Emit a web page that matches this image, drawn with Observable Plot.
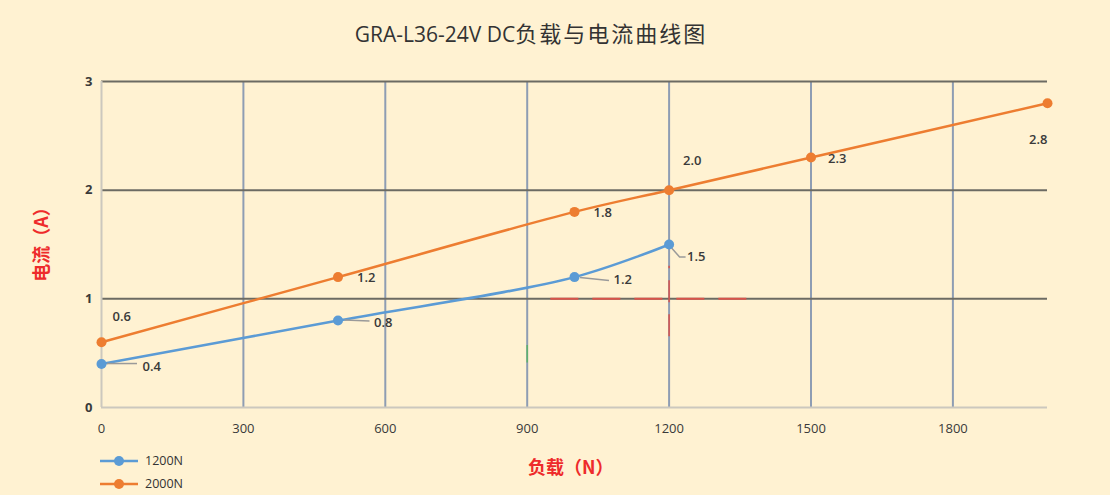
<!DOCTYPE html>
<html><head><meta charset="utf-8">
<script src="https://cdn.jsdelivr.net/npm/d3@7"></script>
<script src="https://cdn.jsdelivr.net/npm/@observablehq/plot@0.6"></script>
<style>
html,body{margin:0;padding:0;background:#FFF2D2;}
#wrap{position:relative;width:1110px;height:495px;background:#FFF2D2;overflow:hidden;
  font-family:"Open Sans","Noto Sans","Noto Sans CJK SC",sans-serif;}
#wrap svg{position:absolute;left:0;top:0;}
#title{position:absolute;left:0;top:16px;width:1062px;text-align:center;color:#333;white-space:nowrap;}
#title .lat{font-family:"Open Sans",sans-serif;font-size:21px;}
#title .cjk{font-family:"Noto Sans CJK SC",sans-serif;font-size:22px;letter-spacing:2px;}
.axt{position:absolute;color:#EE2B2B;font-family:"Noto Sans CJK SC",sans-serif;font-size:18px;font-weight:700;white-space:nowrap;}
#xt{left:528px;top:453px;}
#yt{left:40px;top:240px;transform:translate(-50%,-50%) rotate(-90deg);}
#legend{position:absolute;left:100px;top:449px;font-family:"Open Sans",sans-serif;font-size:12.5px;color:#333;}
#legend .item{display:flex;align-items:center;height:23px;}
#legend svg{position:static;margin-right:5px;}
</style></head>
<body>
<div id="wrap">
  <div id="title"></div>
  <div class="axt" id="xt"></div>
  <div class="axt" id="yt"></div>
  <div id="legend"></div>
</div>
<script>
// ---- data ----
const titleLatin = "GRA-L36-24V DC";
const titleCjk = "负载与电流曲线图";
const xTitle = "负载（N）";
const yTitle = "电流（A）";
const seriesNames = ["1200N", "2000N"];
const loads1200 = [0, 500, 1000, 1200];
const amps1200 = [0.4, 0.8, 1.2, 1.5];
const labels1200 = ["0.4", "0.8", "1.2", "1.5"];
const loads2000 = [0, 500, 1000, 1200, 1500, 2000];
const amps2000 = [0.6, 1.2, 1.8, 2.0, 2.3, 2.8];
const labels2000 = ["0.6", "1.2", "1.8", "2.0", "2.3", "2.8"];
const xTicks = [0, 300, 600, 900, 1200, 1500, 1800];
const yTicks = [0, 1, 2, 3];
const xMax = 2000;
// stray marks visible in the source image
const redDashH = [{y: 1, x1: 950, x2: 1380}];
const redDashV = [{x: 1200, y1: 0.65, y2: 1.3}];
const greenTick = [{x: 900, y1: 0.41, y2: 0.57}];

// ---- styles / layout ----
const colors = ["#5B9BD5", "#ED7D31"];
const off1200 = [[41, 3], [36, 2], [39, 3], [18, 12]];
const off2000 = [[11, -25, "start"], [19, 1, "start"], [19, 1, "start"], [14, -29, "start"], [17, 1, "start"], [0, 37, "end"]];
const leaders1200 = [[[6,0],[36,0]], [[7,0],[32,1]], [[6,1],[35,4]], [[3,4],[11,13],[17,13]]];

const d1200 = loads1200.map((x, i) => ({x, y: amps1200[i], label: labels1200[i], i}));
const d2000 = loads2000.map((x, i) => ({x, y: amps2000[i], label: labels2000[i], i}));

document.getElementById("title").innerHTML =
  `<span class="lat">${titleLatin}</span><span class="cjk">${titleCjk}</span>`;
document.getElementById("xt").textContent = xTitle;
document.getElementById("yt").textContent = yTitle;
document.getElementById("legend").innerHTML = seriesNames.map((n, i) =>
  `<div class="item"><svg width="40" height="12"><line x1="0" x2="38" y1="6" y2="6" stroke="${colors[i]}" stroke-width="2.5"/><circle cx="19" cy="6" r="5" fill="${colors[i]}"/></svg>${n}</div>`).join("");

const labelFont = "Open Sans, sans-serif";
const textMarks = [];
d1200.forEach((d, i) => textMarks.push(Plot.text([d], {x: "x", y: "y", text: "label", dx: off1200[i][0], dy: off1200[i][1], textAnchor: "start", fill: "#3a3a3a", fontSize: 13, fontWeight: 600})));
d2000.forEach((d, i) => textMarks.push(Plot.text([d], {x: "x", y: "y", text: "label", dx: off2000[i][0], dy: off2000[i][1], textAnchor: off2000[i][2], fill: "#3a3a3a", fontSize: 13, fontWeight: 600})));

const leaderMark = (index, scales) => {
  const g = document.createElementNS("http://www.w3.org/2000/svg", "g");
  d1200.forEach((d, i) => {
    const px = scales.x(d.x), py = scales.y(d.y);
    const p = document.createElementNS("http://www.w3.org/2000/svg", "polyline");
    p.setAttribute("points", leaders1200[i].map(([a, b]) => `${px + a},${py + b}`).join(" "));
    p.setAttribute("fill", "none");
    p.setAttribute("stroke", "#9a9a9a");
    p.setAttribute("stroke-width", "1.5");
    g.appendChild(p);
  });
  return g;
};

const chart = Plot.plot({
  width: 1110, height: 495,
  marginLeft: 101, marginRight: 63, marginTop: 81, marginBottom: 88,
  style: {background: "transparent", fontFamily: labelFont, fontSize: "13px", color: "#3a3a3a"},
  x: {domain: [0, xMax], axis: null},
  y: {domain: [0, 3], axis: null},
  marks: [
    Plot.ruleX(xTicks.filter(d => d > 0), {stroke: "#8E9DB3", strokeWidth: 2}),
    Plot.ruleY(yTicks.filter(d => d > 0), {stroke: "#6C6B63", strokeWidth: 2}),
    Plot.ruleX([0], {stroke: "#CCC8BE", strokeWidth: 2}),
    Plot.ruleY([0], {stroke: "#CCC8BE", strokeWidth: 2}),
    Plot.ruleY(redDashH, {y: "y", x1: "x1", x2: "x2", stroke: "#D9534A", strokeWidth: 2, strokeDasharray: "28,14"}),
    Plot.ruleX(redDashV, {x: "x", y1: "y1", y2: "y2", stroke: "#D9534A", strokeWidth: 1.5, strokeDasharray: "22,12"}),
    Plot.ruleX(greenTick, {x: "x", y1: "y1", y2: "y2", stroke: "#5DB36A", strokeWidth: 1.5}),
    Plot.axisX({ticks: xTicks, tickSize: 0, tickPadding: 16, tickFormat: d => String(d), fontSize: 13, label: null}),
    Plot.axisY({ticks: yTicks, tickSize: 0, tickPadding: 9, tickFormat: d => String(d), fontSize: 13, fontWeight: 700, label: null}),
    Plot.line(d1200, {x: "x", y: "y", stroke: colors[0], strokeWidth: 2.5, curve: "catmull-rom"}),
    Plot.line(d2000, {x: "x", y: "y", stroke: colors[1], strokeWidth: 2.5, curve: "catmull-rom"}),
    leaderMark,
    Plot.dot(d1200, {x: "x", y: "y", r: 5, fill: colors[0]}),
    Plot.dot(d2000, {x: "x", y: "y", r: 5, fill: colors[1]}),
    ...textMarks
  ]
});
document.getElementById("wrap").insertBefore(chart, document.getElementById("wrap").firstChild);
</script>
</body></html>
